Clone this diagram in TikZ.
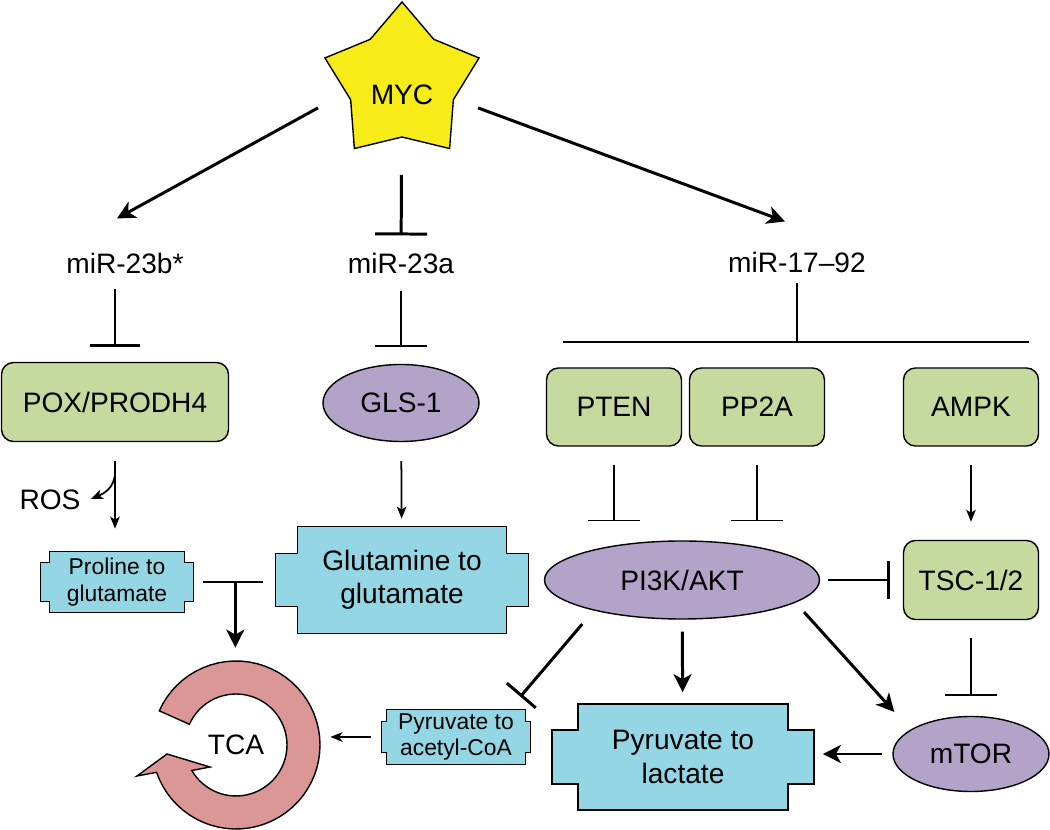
\documentclass[tikz,border=0pt]{standalone}
\usepackage{fontspec}
\setmainfont{Liberation Sans}
\usetikzlibrary{arrows.meta,shapes.geometric,positioning,calc,backgrounds}

\definecolor{mycyellow}{RGB}{247,236,24}
\definecolor{protgreen}{RGB}{198,217,158}
\definecolor{enzpurple}{RGB}{180,163,200}
\definecolor{metcyan}{RGB}{148,214,227}
\definecolor{tcapink}{RGB}{218,151,150}

\newcommand{\bigfont}{\fontsize{16}{19}\selectfont}
\newcommand{\smallfont}{\fontsize{13}{15}\selectfont}

\tikzset{
    protein box/.style={
        draw,line width=.8pt,rounded corners=2.4mm,
        fill=protgreen,
        minimum width=27mm,minimum height=15.6mm,
        inner sep=0pt,font=\bigfont
    },
    enzyme/.style={
        ellipse,draw,line width=.8pt,
        fill=enzpurple,inner sep=0pt,font=\bigfont
    },
    metabolite/.style={inner sep=0pt,align=center},
    cross/.style={draw,line width=.8pt,fill=metcyan},
    tca ring/.style={draw,line width=.8pt,fill=tcapink},
    mirna/.style={inner sep=0pt,text height=11.6pt,text depth=0pt,font=\bigfont},
    activate/.style={line width=1.7pt,-{Stealth[length=3.6mm,width=3.6mm,inset=1mm]}},
    thin activate/.style={line width=1pt,-{Stealth[length=2.4mm,width=1.9mm,inset=.6mm]}},
    inhibit/.style={line width=1.7pt,-{Bar[width=#1]}},
    inhibit/.default=10.4mm,
    thin inhibit/.style={line width=1pt,-{Bar[width=#1]}},
    thin inhibit/.default=10.4mm,
}

\begin{document}
\begin{tikzpicture}[x=0.2mm,y=-0.2mm]
    \useasboundingbox (0,0) rectangle (1050,830);

    % top: MYC and the three miRNAs
    \node[star,star points=5,star point ratio=1.5,minimum size=32.4mm,inner sep=0pt,
          draw,line width=.8pt,fill=mycyellow,font=\bigfont,
          text height=8.8mm,text depth=0pt] (myc) at (402,83) {MYC};
    \node[mirna] (mir23b) at (125,263) {miR-23b*};
    \node[mirna] (mir23a) at (401,263) {miR-23a};
    \node[mirna] (mir1792) at (797,262) {miR-17--92};

    % targets
    \node[protein box,minimum width=45.4mm,minimum height=15.8mm] (pox) at (115,402) {POX/PRODH4};
    \node[enzyme,minimum width=31.2mm,minimum height=15.4mm] (gls) at (401,403) {GLS-1};
    \foreach \x/\name/\txt in {614/pten/PTEN,757/pp2a/PP2A,971/ampk/AMPK}
        \node[protein box] (\name) at (\x,407) {\txt};

    \node[mirna] (ros) at (50,499) {ROS};
    \node[metabolite,font=\smallfont,minimum width=26.8mm,minimum height=12mm] (pro) at (117,582) {Proline to\\glutamate};
    \node[metabolite,font=\bigfont,minimum width=41.6mm,minimum height=21.2mm] (glu) at (402,580) {Glutamine to\\glutamate};
    \node[enzyme,minimum width=55mm,minimum height=15.6mm] (pi3k) at (682,580) {PI3K/AKT};
    \node[protein box,minimum height=15.8mm] (tsc) at (971,580) {TSC-1/2};

    \node[circle,minimum size=33.6mm,inner sep=0pt,font=\bigfont] (tca) at (236,745) {TCA};
    \node[metabolite,font=\smallfont,minimum width=27.6mm,minimum height=10.8mm] (acet) at (456,737) {Pyruvate to\\acetyl-CoA};
    \node[metabolite,font=\bigfont,minimum width=41.8mm,minimum height=21mm] (lac) at (683,757) {Pyruvate to\\lactate};
    \node[enzyme,minimum width=31.2mm,minimum height=15mm] (mtor) at (971,754) {mTOR};

    % metabolite boxes and the TCA cycle behind the text
    \begin{scope}[on background layer]
        \foreach \n/\p/\q in {pro/9/11,glu/22/27,acet/5/12,lac/26/26}
            \filldraw[cross] (\n.north west) -- (\n.north east) -- ++(0,\q) -- ++(\p,0)
                -- ($(\n.south east)+(\p,-\q)$) -- ++(-\p,0) -- (\n.south east)
                -- (\n.south west) -- ++(0,-\q) -- ++(-\p,0)
                -- ($(\n.north west)+(-\p,\q)$) -- ++(\p,0) -- cycle;
    \end{scope}
    \begin{scope}[on background layer,shift={(tca.center)}]
        \filldraw[tca ring] plot[domain=204:521,samples=60] ({84*cos(\x)},{84*sin(\x)})
            -- (-99,31) -- (-69,9) -- (-26,22)
            -- plot[domain=510:204,samples=60] ({51*cos(\x)},{51*sin(\x)}) -- cycle;
    \end{scope}

    % MYC
    \draw[activate] ([shift={(-32,8)}]myc.inner point 2) -- ([shift={(-8,-34)}]mir23b.north);
    \draw[inhibit,shorten <=7.4mm,shorten >=3.4mm] (myc) -- (mir23a);
    \draw[activate] ([shift={(24,8)}]myc.inner point 4) -- ([shift={(-12,-30)}]mir1792.north);

    % miRNAs
    \draw[inhibit=10mm,shorten <=3mm,shorten >=3mm] (pox.north |- mir23b.south) -- (pox.north);
    \draw[thin inhibit,shorten <=3.4mm,shorten >=3.4mm] (mir23a) -- (gls);
    \coordinate (barL) at (563,342);
    \coordinate (barR) at (1029,342);
    \draw[line width=1.7pt,shorten <=2mm] (mir1792) -- (mir1792 |- barL);
    \draw[line width=1.7pt] (barL) -- (barR);

    % proline and glutamine
    \draw[thin activate,shorten <=3.8mm,shorten >=4.6mm] (pox.south) -- (pox.south |- pro.north);
    \draw[thin activate] ($(pox.south)+(0,30)$) .. controls +(0,16) and +(12,-5) .. ([xshift=2mm]ros.east);
    \draw[thin activate,shorten <=3.8mm,shorten >=1.6mm] (gls) -- (glu);
    \draw[line width=1.7pt,shorten <=3.8mm,shorten >=7mm] (pro.east) -- (pro.east -| glu.west);
    \coordinate (merge) at ([xshift=10.2mm]pro.east);
    \draw[activate,shorten >=2.6mm] (merge) -- (merge |- tca.north);
    \draw[thin activate,shorten <=3.2mm,shorten >=2mm] (acet.west) -- (acet.west -| tca.east);

    % PI3K/AKT and mTOR
    \foreach \name in {pten,pp2a}
        \draw[thin inhibit,shorten <=3.6mm,shorten >=3.8mm] (\name.south) -- (\name.south |- pi3k.north);
    \draw[thin activate,shorten <=3.6mm,shorten >=3.6mm] (ampk) -- (tsc);
    \draw[inhibit=7.6mm,shorten <=1.6mm,shorten >=2.6mm] (pi3k.east) -- (pi3k.east -| tsc.west);
    \draw[thin inhibit,shorten <=3.6mm,shorten >=4mm] (tsc) -- (mtor);
    \draw[activate] ([shift={(21,5)}]pi3k.-15) -- ([shift={(-21,-15)}]mtor.north west);
    \draw[activate,shorten <=2.4mm,shorten >=2.4mm] (pi3k) -- (lac);
    \draw[activate,shorten <=2mm,shorten >=7mm] (mtor.west) -- (mtor.west -| lac.east);
    \draw[inhibit=7.6mm] ([shift={(-2,16)}]pi3k.south west) -- ([shift={(-5,-13)}]acet.north east);
\end{tikzpicture}
\end{document}
